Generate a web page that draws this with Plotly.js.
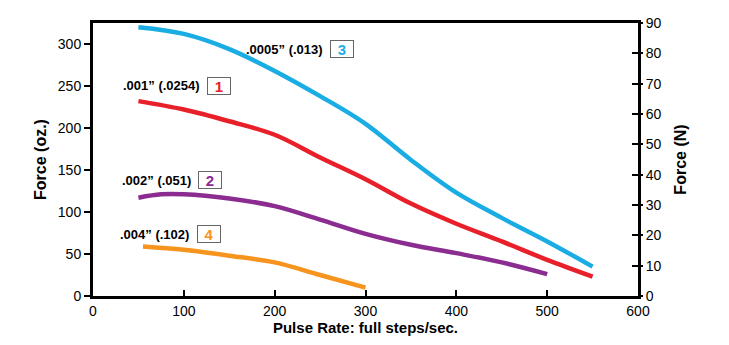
<!DOCTYPE html>
<html><head><meta charset="utf-8">
<script src="https://cdn.plot.ly/plotly-3.0.1.min.js"></script>
<style>html,body{margin:0;padding:0;background:#fff}#chart{width:729px;height:345px}</style>
</head><body><div id="chart"></div>
<script>
// Data (oz. vs full steps/sec)
const x3 = [50, 100, 150, 200, 250, 300, 350, 400, 450, 500, 550];
const y3 = [320, 312, 294, 268, 238, 205, 162, 123, 93, 65, 35];
const x1 = [50, 100, 150, 200, 250, 300, 350, 400, 450, 500, 550];
const y1 = [232, 222, 208, 192, 165, 139, 110, 86, 65, 43, 23];
const x2 = [50, 75, 100, 150, 200, 250, 300, 350, 400, 450, 500];
const y2 = [117, 121, 121, 116, 107, 91, 74, 61, 51, 40, 26];
const x4 = [55, 100, 150, 200, 250, 300];
const y4 = [59, 55, 48, 40, 25, 10];
const labels = ['.001\u201D (.0254)', '.002\u201D (.051)', '.0005\u201D (.013)', '.004\u201D (.102)'];
const nums = ['1', '2', '3', '4'];
const colors = ['#E8202A', '#8B2C91', '#1AADE4', '#F7941D'];

const font = 'Liberation Sans, Arial, sans-serif';
function tr(x, y, c) {
  return {x: x, y: y, type: 'scatter', mode: 'lines', line: {color: c, width: 4.5, shape: 'spline', smoothing: 1}, hoverinfo: 'skip', showlegend: false};
}
const data = [tr(x3, y3, colors[2]), tr(x1, y1, colors[0]), tr(x2, y2, colors[1]), tr(x4, y4, colors[3]),
  {x: [0], y: [0], yaxis: 'y2', type: 'scatter', mode: 'markers', marker: {opacity: 0}, showlegend: false, hoverinfo: 'skip'},
  {x: [0], y: [0], yaxis: 'y3', type: 'scatter', mode: 'markers', marker: {opacity: 0}, showlegend: false, hoverinfo: 'skip'}];

// label positions: [textRightX, y, boxCenterX]
const pos = [[120, 250.5, 138.7], [110, 137.8, 128.8], [255.4, 294, 274], [108, 73.4, 127.7]];
const annotations = [];
for (let i = 0; i < 4; i++) {
  annotations.push({x: pos[i][0], y: pos[i][1], xref: 'x', yref: 'y', text: labels[i], showarrow: false,
    xanchor: 'right', yanchor: 'middle', font: {family: font, size: 13, color: '#000', weight: 'bold'}});
  annotations.push({x: pos[i][2], y: pos[i][1], xref: 'x', yref: 'y', text: '<b>' + nums[i] + '</b>', showarrow: false,
    xanchor: 'center', yanchor: 'middle', width: 20, height: 14, bordercolor: '#666', borderwidth: 1, borderpad: 1,
    font: {family: font, size: 15, color: colors[i]}});
}

const layout = {
  width: 729, height: 345,
  margin: {l: 93, r: 91, t: 23, b: 49},
  paper_bgcolor: '#fff', plot_bgcolor: '#fff',
  font: {family: font, size: 14, color: '#000'},
  xaxis: {range: [0, 600], tickvals: [0, 100, 200, 300, 400, 500, 600], ticks: 'inside', ticklen: 6, tickwidth: 2, tickcolor: '#000',
    showline: true, linecolor: '#000', linewidth: 3, mirror: true, showgrid: false, zeroline: false,
    tickfont: {size: 14}, title: {text: '<b>Pulse Rate: full steps/sec.</b>', font: {size: 15}, standoff: 1}},
  yaxis: {range: [0, 325], tickvals: [0, 50, 100, 150, 200, 250, 300], ticks: 'outside', ticklen: 6, tickwidth: 2, tickcolor: '#000',
    showline: true, linecolor: '#000', linewidth: 3, mirror: true, showgrid: false, zeroline: false,
    tickfont: {size: 14}, title: {text: '<b>Force (oz.)</b>', font: {size: 16}, standoff: 8}},
  yaxis2: {range: [0, 90], overlaying: 'y', side: 'right', tickvals: [0, 10, 20, 30, 40, 50, 60, 70, 80, 90], ticks: 'outside', ticklen: 4,
    tickwidth: 2, tickcolor: '#000', showline: false, showgrid: false, zeroline: false, tickfont: {size: 14},
    title: {text: '<b>Force (N)</b>', font: {size: 16}, standoff: 14}},
  yaxis3: {range: [0, 90], overlaying: 'y', side: 'right', tickvals: [0, 10, 20, 30, 40, 50, 60, 70, 80, 90], ticks: 'inside', ticklen: 6,
    tickwidth: 2, tickcolor: '#000', showticklabels: false, showline: false, showgrid: false, zeroline: false},
  annotations: annotations
};
Plotly.newPlot('chart', data, layout, {displayModeBar: false, staticPlot: true});
</script></body></html>
